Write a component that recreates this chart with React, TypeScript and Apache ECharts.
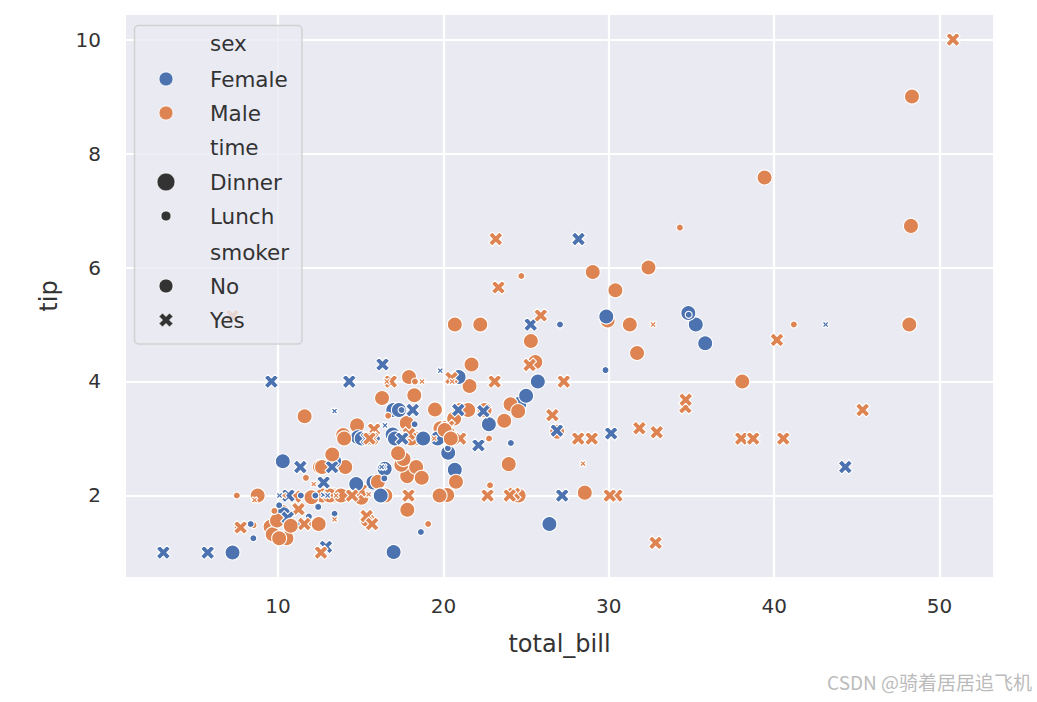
import React, { useEffect, useRef } from "react";
import * as echarts from "echarts";

// tips dataset: total_bill, tip, sex, smoker, time
const totalBill = [
  16.99, 10.34, 21.01, 23.68, 24.59, 25.29, 8.77, 26.88, 15.04, 14.78,
  10.27, 35.26, 15.42, 18.43, 14.83, 21.58, 10.33, 16.29, 16.97, 20.65,
  17.92, 20.29, 15.77, 39.42, 19.82, 17.81, 13.37, 12.69, 21.7, 19.65,
  9.55, 18.35, 15.06, 20.69, 17.78, 24.06, 16.31, 16.93, 18.69, 31.27,
  16.04, 17.46, 13.94, 9.68, 30.4, 18.29, 22.23, 32.4, 28.55, 18.04,
  12.54, 10.29, 34.81, 9.94, 25.56, 19.49, 38.01, 26.41, 11.24, 48.27,
  20.29, 13.81, 11.02, 18.29, 17.59, 20.08, 16.45, 3.07, 20.23, 15.01,
  12.02, 17.07, 26.86, 25.28, 14.73, 10.51, 17.92, 27.2, 22.76, 17.29,
  19.44, 16.66, 10.07, 32.68, 15.98, 34.83, 13.03, 18.28, 24.71, 21.16,
  28.97, 22.49, 5.75, 16.32, 22.75, 40.17, 27.28, 12.03, 21.01, 12.46,
  11.35, 15.38, 44.3, 22.42, 20.92, 15.36, 20.49, 25.21, 18.24, 14.31,
  14.0, 7.25, 38.07, 23.95, 25.71, 17.31, 29.93, 10.65, 12.43, 24.08,
  11.69, 13.42, 14.26, 15.95, 12.48, 29.8, 8.52, 14.52, 11.38, 22.82,
  19.08, 20.27, 11.17, 12.26, 18.26, 8.51, 10.33, 14.15, 16.0, 13.16,
  17.47, 34.3, 41.19, 27.05, 16.43, 8.35, 18.64, 11.87, 9.78, 7.51,
  14.07, 13.13, 17.26, 24.55, 19.77, 29.85, 48.17, 25.0, 13.39, 16.49,
  21.5, 12.66, 16.21, 13.81, 17.51, 24.52, 20.76, 31.71, 10.59, 10.63,
  50.81, 15.81, 7.25, 31.85, 16.82, 32.9, 17.89, 14.48, 9.6, 34.63,
  34.65, 23.33, 45.35, 23.17, 40.55, 20.69, 20.9, 30.46, 18.15, 23.1,
  15.69, 19.81, 28.44, 15.48, 16.58, 7.56, 10.34, 43.11, 13.0, 13.51,
  18.71, 12.74, 13.0, 16.4, 20.53, 16.47, 26.59, 38.73, 24.27, 12.76,
  30.06, 25.89, 48.33, 13.27, 28.17, 12.9, 28.15, 11.59, 7.74, 30.14,
  12.16, 13.42, 8.58, 15.98, 13.42, 16.27, 10.09, 20.45, 13.28, 22.12,
  24.01, 15.69, 11.61, 10.77, 15.53, 10.07, 12.6, 32.83, 35.83, 29.03,
  27.18, 22.67, 17.82, 18.78,
];

const tip = [
  1.01, 1.66, 3.5, 3.31, 3.61, 4.71, 2.0, 3.12, 1.96, 3.23,
  1.71, 5.0, 1.57, 3.0, 3.02, 3.92, 1.67, 3.71, 3.5, 3.35,
  4.08, 2.75, 2.23, 7.58, 3.18, 2.34, 2.0, 2.0, 4.3, 3.0,
  1.45, 2.5, 3.0, 2.45, 3.27, 3.6, 2.0, 3.07, 2.31, 5.0,
  2.24, 2.54, 3.06, 1.32, 5.6, 3.0, 5.0, 6.0, 2.05, 3.0,
  2.5, 2.6, 5.2, 1.56, 4.34, 3.51, 3.0, 1.5, 1.76, 6.73,
  3.21, 2.0, 1.98, 3.76, 2.64, 3.15, 2.47, 1.0, 2.01, 2.09,
  1.97, 3.0, 3.14, 5.0, 2.2, 1.25, 3.08, 4.0, 3.0, 2.71,
  3.0, 3.4, 1.83, 5.0, 2.03, 5.17, 2.0, 4.0, 5.85, 3.0,
  3.0, 3.5, 1.0, 4.3, 3.25, 4.73, 4.0, 1.5, 3.0, 1.5,
  2.5, 3.0, 2.5, 3.48, 4.08, 1.64, 4.06, 4.29, 3.76, 4.0,
  3.0, 1.0, 4.0, 2.55, 4.0, 3.5, 5.07, 1.5, 1.8, 2.92,
  2.31, 1.68, 2.5, 2.0, 2.52, 4.2, 1.48, 2.0, 2.0, 2.18,
  1.5, 2.83, 1.5, 2.0, 3.25, 1.25, 2.0, 2.0, 2.0, 2.75,
  3.5, 6.7, 5.0, 5.0, 2.3, 1.5, 1.36, 1.63, 1.73, 2.0,
  2.5, 2.0, 2.74, 2.0, 2.0, 5.14, 5.0, 3.75, 2.61, 2.0,
  3.5, 2.5, 2.0, 2.0, 3.0, 3.48, 2.24, 4.5, 1.61, 2.0,
  10.0, 3.16, 5.15, 3.18, 4.0, 3.11, 2.0, 2.0, 4.0, 3.55,
  3.68, 5.65, 3.5, 6.5, 3.0, 5.0, 3.5, 2.0, 3.5, 4.0,
  1.5, 4.19, 2.56, 2.02, 4.0, 1.44, 2.0, 5.0, 2.0, 2.0,
  4.0, 2.01, 2.0, 2.5, 4.0, 3.23, 3.41, 3.0, 2.03, 2.23,
  2.0, 5.16, 9.0, 2.5, 6.5, 1.1, 3.0, 1.5, 1.44, 3.09,
  2.2, 3.48, 1.92, 3.0, 1.58, 2.5, 2.0, 3.0, 2.72, 2.88,
  2.0, 3.0, 3.39, 1.47, 3.0, 1.25, 1.0, 1.17, 4.67, 5.92,
  2.0, 2.0, 1.75, 3.0,
];

// F = Female, M = Male
const sex = [
  "F","M","M","M","F","M","M","M","M","M",
  "M","F","M","M","F","M","F","M","F","M",
  "M","F","F","M","M","M","M","M","M","F",
  "M","M","F","F","M","M","M","F","M","M",
  "M","M","M","M","M","M","M","M","M","M",
  "M","F","F","M","M","M","M","F","M","M",
  "M","M","M","M","M","M","F","F","M","M",
  "M","F","F","F","F","M","M","M","M","M",
  "M","M","F","M","M","F","M","M","M","M",
  "M","M","F","F","F","M","M","M","M","M",
  "F","F","F","F","F","M","M","M","M","F",
  "M","F","M","M","F","F","M","F","F","F",
  "M","F","M","M","F","F","M","F","F","M",
  "M","F","F","F","F","F","F","F","M","F",
  "F","M","M","F","F","F","F","F","M","M",
  "M","M","M","M","M","F","M","F","F","M",
  "M","M","F","M","F","M","M","M","F","F",
  "M","M","M","M","M","M","M","M","F","M",
  "M","M","M","M","M","M","F","M","F","M",
  "M","F","M","M","M","M","M","F","F","M",
  "M","F","F","F","M","F","M","M","M","F",
  "M","M","M","F","F","F","M","M","M","F",
  "M","F","M","F","M","F","F","M","M","F",
  "M","M","M","M","M","M","M","M","F","M",
  "F","M","M","F",
];

// N = No, Y = Yes
const smoker = [
  "N","N","N","N","N","N","N","N","N","N",
  "N","N","N","N","N","N","N","N","N","N",
  "N","N","N","N","N","N","N","N","N","N",
  "N","N","N","N","N","N","N","N","N","N",
  "N","N","N","N","N","N","N","N","N","N",
  "N","N","N","N","N","N","Y","N","Y","N",
  "Y","Y","Y","Y","N","N","N","Y","N","Y",
  "N","N","Y","Y","N","N","Y","N","N","N",
  "Y","N","N","Y","N","N","N","N","N","N",
  "Y","N","Y","Y","N","Y","Y","Y","Y","N",
  "Y","Y","Y","Y","N","Y","Y","Y","N","Y",
  "N","N","N","N","N","N","N","N","N","N",
  "N","N","N","N","N","N","N","N","N","N",
  "N","N","N","N","N","N","N","N","Y","N",
  "N","N","N","N","N","N","N","N","N","N",
  "N","N","N","N","N","N","N","N","N","N",
  "N","N","N","N","Y","N","N","N","Y","Y",
  "Y","Y","Y","Y","Y","Y","Y","Y","Y","Y",
  "Y","Y","Y","Y","Y","N","Y","Y","Y","Y",
  "Y","Y","Y","Y","Y","N","Y","Y","Y","Y",
  "Y","Y","Y","Y","Y","Y","Y","Y","Y","Y",
  "Y","Y","N","Y","Y","Y","Y","Y","Y","Y",
  "Y","Y","Y","N","Y","Y","Y","N","N","Y",
  "Y","Y","N","N","Y","N","Y","Y","N","N",
  "Y","Y","N","N",
];

// D = Dinner, L = Lunch
const time = [
  "D","D","D","D","D","D","D","D","D","D",
  "D","D","D","D","D","D","D","D","D","D",
  "D","D","D","D","D","D","D","D","D","D",
  "D","D","D","D","D","D","D","D","D","D",
  "D","D","D","D","D","D","D","D","D","D",
  "D","D","D","D","D","D","D","D","D","D",
  "D","D","D","D","D","D","D","D","D","D",
  "D","D","D","D","D","D","D","L","L","L",
  "L","L","L","L","L","L","L","L","L","L",
  "D","D","D","D","D","D","D","D","D","D",
  "D","D","D","D","D","D","D","D","D","D",
  "D","D","D","D","D","D","D","L","L","L",
  "L","L","L","L","L","L","L","L","L","L",
  "L","L","L","L","L","L","L","L","L","L",
  "L","L","L","L","L","L","L","L","L","L",
  "D","D","D","D","D","D","D","D","D","D",
  "D","D","D","D","D","D","D","D","D","D",
  "D","D","D","D","D","D","D","D","D","D",
  "D","D","D","D","D","D","D","D","D","D",
  "D","L","L","L","L","L","L","L","L","L",
  "L","L","L","L","L","L","D","D","D","D",
  "D","D","D","D","D","D","D","D","D","D",
  "L","L","L","L","L","L","L","D","D","D",
  "D","D","D","D","D","D","D","D","D","D",
  "D","D","D","D",
];

const legendLabels = ["sex", "Female", "Male", "time", "Dinner", "Lunch", "smoker", "No", "Yes"];

const BLUE = "#4C72B0";
const ORANGE = "#DD8452";
const DARK = "#333333";
const FONT = "DejaVu Sans";
const X_PATH = "M6 0L8 2L6 4L8 6L6 8L4 6L2 8L0 6L2 4L0 2L2 0L4 2Z";

let registered = false;
function registerX() {
  if (registered) return;
  echarts.graphic.registerShape("xmark", echarts.graphic.extendPath(X_PATH, {}) as any);
  registered = true;
}

export default function App() {
  const ref = useRef<HTMLDivElement>(null);

  useEffect(() => {
    if (!ref.current) return;
    registerX();
    const chart = echarts.init(ref.current, undefined, { renderer: "svg" });

    const data = totalBill.map((x, i) => {
      const isX = smoker[i] === "Y";
      const base = time[i] === "D" ? 15 : 7;
      return {
        value: [x, tip[i]],
        symbol: isX ? "path://" + X_PATH : "circle",
        symbolSize: isX ? base * 0.94 : base,
        itemStyle: {
          color: sex[i] === "F" ? BLUE : ORANGE,
          borderColor: "#ffffff",
          borderWidth: 1.1,
          opacity: 1,
        },
      };
    });

    const Z = 100;
    const rowY = [43, 79, 113, 147, 182, 216, 252, 286, 320];
    const mx = 166;
    const legendEls: any[] = [
      {
        type: "rect",
        z: Z,
        shape: { x: 134.5, y: 25.5, width: 167.5, height: 318.5, r: 4 },
        style: { fill: "rgba(234,234,242,0.8)", stroke: "rgba(204,204,204,0.85)", lineWidth: 1.5 },
      },
    ];
    legendLabels.forEach((t, i) => {
      legendEls.push({
        type: "text",
        z: Z + 1,
        x: 210,
        y: rowY[i],
        style: { text: t, fill: DARK, font: `21.5px "${FONT}"`, verticalAlign: "middle" },
      });
    });
    const circ = (cy: number, r: number, fill: string) => ({
      type: "circle",
      z: Z + 1,
      shape: { cx: mx, cy, r },
      style: { fill, stroke: "#ffffff", lineWidth: 0.8 },
    });
    legendEls.push(circ(rowY[1], 7, BLUE));
    legendEls.push(circ(rowY[2], 7, ORANGE));
    legendEls.push(circ(rowY[4], 9, DARK));
    legendEls.push(circ(rowY[5], 5, DARK));
    legendEls.push(circ(rowY[7], 7, DARK));
    legendEls.push({
      type: "xmark",
      z: Z + 1,
      x: mx - 7,
      y: rowY[8] - 7,
      scaleX: 14 / 8,
      scaleY: 14 / 8,
      style: { fill: DARK, stroke: "#ffffff", lineWidth: 0.4 },
    });

    const intFmt = (step: number) => (v: number) => {
      const r = Math.round(v / step) * step;
      return Math.abs(r - v) < 1e-6 ? String(r) : "";
    };

    chart.setOption({
      animation: false,
      backgroundColor: "#ffffff",
      grid: {
        left: 126,
        top: 15,
        right: 44,
        bottom: 125,
        show: true,
        backgroundColor: "#EAEAF2",
        borderWidth: 0,
      },
      xAxis: {
        type: "value",
        min: 0.81,
        max: 53.23,
        name: "total_bill",
        nameLocation: "middle",
        nameGap: 55,
        nameTextStyle: { fontSize: 24, color: DARK, fontFamily: FONT },
        axisLine: { show: false },
        axisTick: { show: false },
        axisLabel: { fontSize: 20, color: DARK, fontFamily: FONT, margin: 19, formatter: intFmt(10) },
        splitLine: { show: true, showMinLine: false, showMaxLine: false, lineStyle: { color: "#ffffff", width: 2.2 } },
      },
      yAxis: {
        type: "value",
        min: 0.57,
        max: 10.43,
        name: "tip",
        nameLocation: "middle",
        nameRotate: 90,
        nameGap: 65,
        nameTextStyle: { fontSize: 24, color: DARK, fontFamily: FONT },
        axisLine: { show: false },
        axisTick: { show: false },
        axisLabel: { fontSize: 20, color: DARK, fontFamily: FONT, margin: 25, formatter: intFmt(2) },
        splitLine: { show: true, showMinLine: false, showMaxLine: false, lineStyle: { color: "#ffffff", width: 2.2 } },
      },
      series: [
        {
          type: "scatter",
          data,
          z: 2,
        },
      ],
      graphic: [
        { type: "group", z: Z, children: legendEls },
        {
          type: "text",
          right: 5,
          top: 672,
          z: Z,
          style: {
            text: "CSDN @骑着居居追飞机",
            fill: "#BBBBBB",
            font: '19px "Noto Sans CJK SC"',
          },
        },
      ],
    });

    return () => chart.dispose();
  }, []);

  return (
    <div
      ref={ref}
      style={{ position: "fixed", left: 0, top: 0, width: 1037, height: 702 }}
    />
  );
}
